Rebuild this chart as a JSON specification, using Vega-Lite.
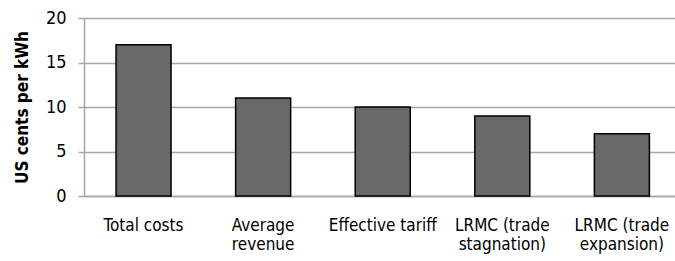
{
  "$schema": "https://vega.github.io/schema/vega-lite/v6.json",
  "autosize": "none",
  "padding": {"left": 84, "top": 18, "right": 0, "bottom": 65},
  "width": 591,
  "height": 178,
  "background": "white",
  "config": {
    "view": {"stroke": null},
    "font": "DejaVu Sans Condensed"
  },
  "data": {
    "values": [
      {"category": "Total costs", "value": 17},
      {"category": "Average revenue", "value": 11},
      {"category": "Effective tariff", "value": 10},
      {"category": "LRMC (trade stagnation)", "value": 9},
      {"category": "LRMC (trade expansion)", "value": 7}
    ]
  },
  "mark": {"type": "bar", "fill": "#696969", "stroke": "#000000", "strokeWidth": 1.5},
  "encoding": {
    "x": {
      "field": "category",
      "type": "nominal",
      "sort": null,
      "scale": {"paddingInner": 0.54, "paddingOuter": 0.241, "align": 0.556},
      "axis": {
        "title": null,
        "labelAngle": 0,
        "ticks": false,
        "domain": true,
        "domainColor": "#a6a6a6",
        "domainWidth": 1.5,
        "labelFont": "DejaVu Sans Condensed",
        "labelFontSize": 17,
        "labelColor": "#000000",
        "labelPadding": 21,
        "labelLineHeight": 19,
        "labelBaseline": "top",
        "labelExpr": "datum.label == 'Average revenue' ? ['Average', 'revenue'] : datum.label == 'LRMC (trade stagnation)' ? ['LRMC (trade', 'stagnation)'] : datum.label == 'LRMC (trade expansion)' ? ['LRMC (trade', 'expansion)'] : datum.label"
      }
    },
    "y": {
      "field": "value",
      "type": "quantitative",
      "scale": {"domain": [0, 20], "nice": false},
      "axis": {
        "title": "US cents per kWh",
        "titleFont": "DejaVu Sans Condensed",
        "titleFontSize": 17,
        "titleFontWeight": "bold",
        "titleColor": "#000000",
        "titlePadding": 14,
        "values": [0, 5, 10, 15, 20],
        "grid": true,
        "gridColor": "#a6a6a6",
        "gridWidth": 1.5,
        "domain": true,
        "domainColor": "#a6a6a6",
        "domainWidth": 1.5,
        "ticks": true,
        "tickColor": "#a6a6a6",
        "tickWidth": 1.5,
        "tickSize": 6,
        "labelFont": "DejaVu Sans Condensed",
        "labelFontSize": 18,
        "labelColor": "#000000",
        "labelPadding": 12
      }
    }
  }
}
